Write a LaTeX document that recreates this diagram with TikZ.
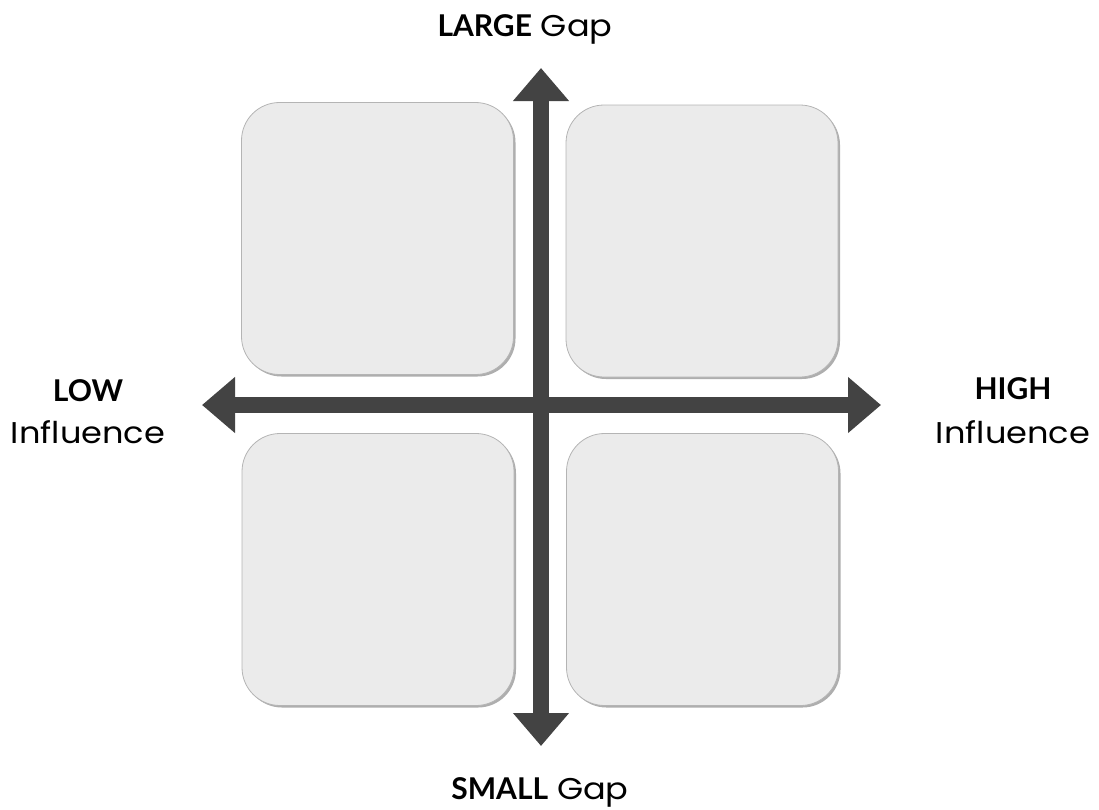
\documentclass[tikz,border=0pt]{standalone}
\usepackage{fontspec}
\setmainfont{Poppins}[FakeStretch=1.12]
\newfontfamily\boldfam{Lato}
\usetikzlibrary{arrows.meta,shadows}
\definecolor{boxfill}{HTML}{EBEBEB}
\definecolor{boxedge}{HTML}{B4B4B4}
\definecolor{axisgray}{HTML}{434343}
\tikzset{
  quad/.style={draw=boxedge, line width=0.8pt, fill=boxfill, rounded corners=38pt,
    minimum width=272pt, minimum height=272pt, inner sep=0pt,
    drop shadow={shadow xshift=2pt, shadow yshift=-2pt, opacity=0.45, fill=black!70}},
  axis/.style={draw=axisgray, line width=16pt,
    {Triangle[length=33pt,width=54pt]}-{Triangle[length=33pt,width=54pt]}},
  lbl/.style={font=\fontsize{30}{34}\selectfont, text=black, inner sep=0pt, align=center},
}
\newcommand{\bw}[1]{{\boldfam\bfseries #1}}
\begin{document}
\begin{tikzpicture}[x=1pt,y=-1pt]
\useasboundingbox (0,0) rectangle (1099,809);
\node[quad] (tl) at (377.5,238.5) {};
\node[quad] (tr) at (702,241) {};
\node[quad] (bl) at (378,569.5) {};
\node[quad] (br) at (702.5,569.5) {};
\coordinate (top) at (541,68);
\coordinate (bot) at (541,746);
\coordinate (left) at (202,405);
\coordinate (right) at (881,405);
\draw[axis] (left) -- (right);
\draw[axis] (top) -- (bot);
\node[lbl, anchor=base] (lg) at (525,36) {\bw{LARGE} Gap};
\node[lbl, anchor=base] (sg) at (540,799) {\bw{SMALL} Gap};
\node[lbl, anchor=base] (low) at (88,401) {\bw{LOW}};
\node[lbl, anchor=base] (lowi) at (88,443) {Influence};
\node[lbl, anchor=base] (high) at (1013,399) {\bw{HIGH}};
\node[lbl, anchor=base] (highi) at (1013,443) {Influence};
\end{tikzpicture}
\end{document}
